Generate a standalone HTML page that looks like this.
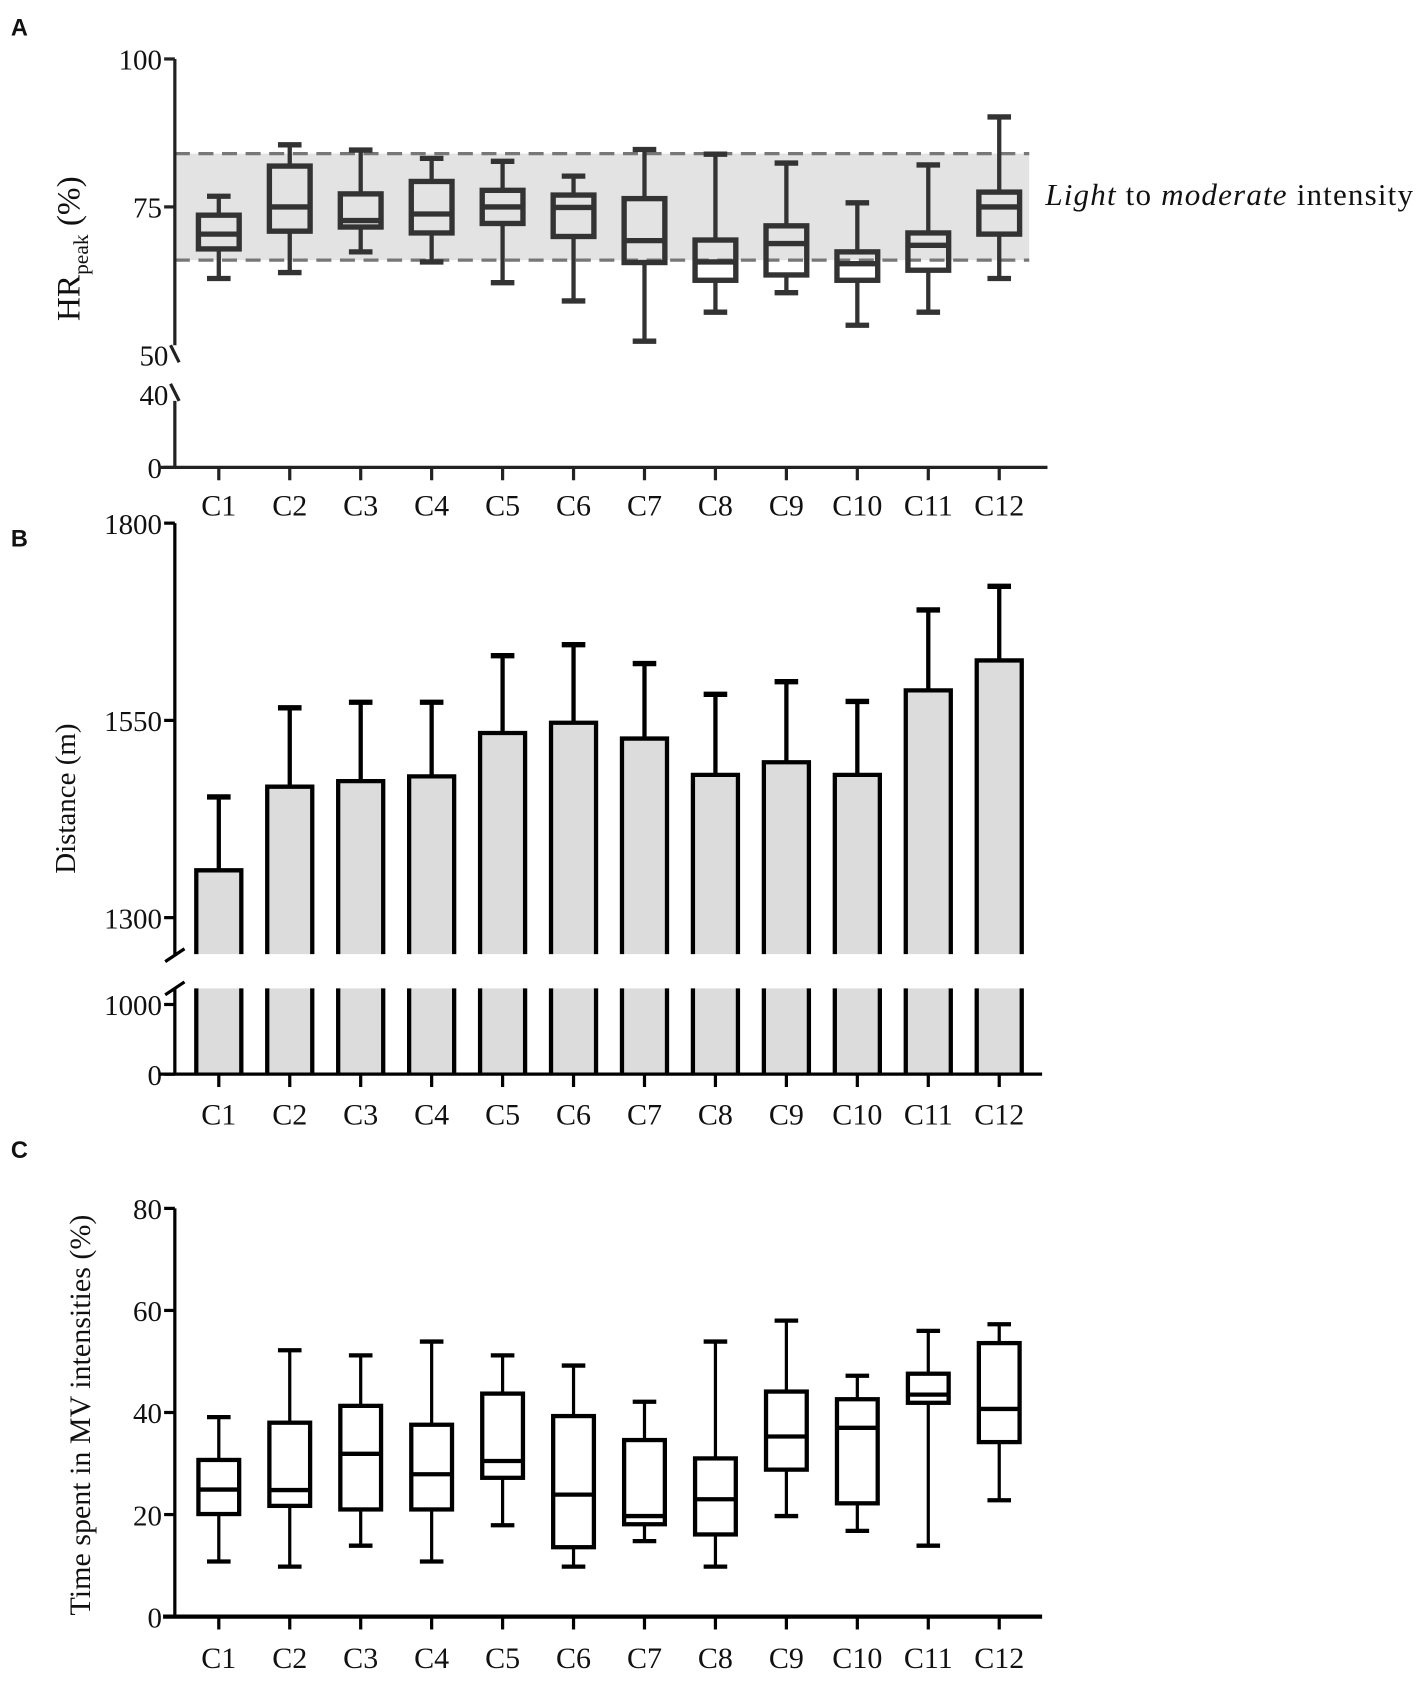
<!DOCTYPE html>
<html><head><meta charset="utf-8"><style>
html,body{margin:0;padding:0;background:#fff}
svg{display:block}
text{font-family:"Liberation Serif",serif;fill:#111}
.pl{font-family:"Liberation Sans",sans-serif;font-weight:bold;font-size:22px}
</style></head><body>
<svg id="fig" width="1426" height="1682" viewBox="0 0 1330 1569" xmlns="http://www.w3.org/2000/svg">
<text class="pl" x="10" y="33">A</text>
<text class="pl" x="10" y="510">B</text>
<text class="pl" x="10" y="1080">C</text>
<g id="gA"></g>
<g id="gB"></g>
<g id="gC"></g>
</svg>
<script>
const categories=["C1","C2","C3","C4","C5","C6","C7","C8","C9","C10","C11","C12"];
// Panel A HRpeak boxes
const hrMin=[62.9,63.9,67.4,65.7,62.2,59.1,52.3,57.2,60.5,55,57.2,62.9];
const hrQ1=[67.9,70.9,71.6,70.6,72.2,70,65.6,62.6,63.5,62.6,64.3,70.4];
const hrMed=[70.4,75,72.7,73.8,75,74.9,69.3,65.7,68.8,65.4,68.5,75];
const hrQ3=[73.6,81.9,77.2,79.3,77.8,77,76.4,69.4,71.8,67.4,70.6,77.5];
const hrMax=[76.8,85.5,84.6,83.2,82.7,80.2,84.7,83.9,82.4,75.7,82.1,90.2];
const hrBand=[66,84];
const hrTicks=[100,75,50,40,0];
// Panel B distance bars
const distMean=[1360,1466,1473,1479,1534,1547,1527,1481,1497,1481,1588,1626];
const distSD=[93,100,100,94,98,99,95,102,102,93,102,94];
const distTicks=[1800,1550,1300,1000,0];
// Panel C MV time boxes
const mvMin=[10.8,9.8,13.9,10.8,17.9,9.8,14.8,9.8,19.7,16.8,13.9,22.8];
const mvQ1=[20.1,21.7,21,21,27.2,13.6,18.1,16.1,28.8,22.2,41.9,34.2];
const mvMed=[24.9,24.8,31.9,27.9,30.5,23.9,19.7,23,35.3,37,43.5,40.7];
const mvQ3=[30.7,38,41.3,37.6,43.7,39.3,34.6,31,44.1,42.6,47.6,53.6];
const mvMax=[39.1,52.2,51.2,53.9,51.2,49.2,42.1,53.9,58,47.2,56,57.3];
const mvTicks=[80,60,40,20,0];

const NS="http://www.w3.org/2000/svg";
function mk(p,t,a){const e=document.createElementNS(NS,t);for(const k in a)e.setAttribute(k,a[k]);p.appendChild(e);return e;}
const AX=163, X0=204, DX=(932-204)/11;
const xc=i=>X0+i*DX;

function xAxis(g,y,x1,x2,col,sw,ly){
  const l=mk(g,'line',{x1:x1,y1:y,x2:x2,y2:y,stroke:col,'stroke-width':sw});
  
  categories.forEach((c,i)=>{
    mk(g,'line',{x1:xc(i),y1:y,x2:xc(i),y2:y+12,stroke:col,'stroke-width':3});
    const t=mk(g,'text',{x:xc(i),y:ly,'text-anchor':'middle','font-size':28});
    t.textContent=c;
    
    
  });
}
function yTick(g,y,lab,col){
  mk(g,'line',{x1:AX-10,y1:y,x2:AX,y2:y,stroke:col,'stroke-width':3});
  const t=mk(g,'text',{x:AX-12,y:y+10,'text-anchor':'end','font-size':27});
  t.textContent=lab;
  
  
}
function boxes(g,yf,mn,q1,md,q3,mx,col,sw,nm){
  const w=38,cw=22;
  categories.forEach((c,i)=>{
    const x=xc(i);
    const b=mk(g,'g',{});
    
    
    mk(b,'line',{x1:x,y1:yf(mx[i]),x2:x,y2:yf(q3[i]),stroke:col,'stroke-width':sw-1});
    mk(b,'line',{x1:x,y1:yf(q1[i]),x2:x,y2:yf(mn[i]),stroke:col,'stroke-width':sw-1});
    mk(b,'line',{x1:x-cw/2,y1:yf(mx[i]),x2:x+cw/2,y2:yf(mx[i]),stroke:col,'stroke-width':sw});
    mk(b,'line',{x1:x-cw/2,y1:yf(mn[i]),x2:x+cw/2,y2:yf(mn[i]),stroke:col,'stroke-width':sw});
    mk(b,'rect',{x:x-w/2,y:yf(q3[i]),width:w,height:yf(q1[i])-yf(q3[i]),fill:'none',stroke:col,'stroke-width':sw});
    mk(b,'line',{x1:x-w/2,y1:yf(md[i]),x2:x+w/2,y2:yf(md[i]),stroke:col,'stroke-width':sw});
  });
}

// ---- Panel A ----
(function(){
  const g=document.getElementById('gA');
  const yA=v=>v>=50?193-(v-75)*5.52:436-v*1.7;
  const band=mk(g,'rect',{x:AX,y:yA(hrBand[1]),width:797,height:yA(hrBand[0])-yA(hrBand[1]),fill:'#e3e3e3'});
  
  hrBand.forEach(v=>{const l=mk(g,'line',{x1:AX,y1:yA(v),x2:960,y2:yA(v),stroke:'#777','stroke-width':3,'stroke-dasharray':'14 8'});
    });
  const ax=mk(g,'path',{d:`M${AX} ${yA(100)}V322 M${AX} 374V436`,stroke:'#222','stroke-width':3,fill:'none'});
  
  mk(g,'line',{x1:AX-4,y1:322,x2:AX+4,y2:338,stroke:'#222','stroke-width':3});
  mk(g,'line',{x1:AX-4,y1:358,x2:AX+4,y2:374,stroke:'#222','stroke-width':3});
  hrTicks.forEach(v=>{ if(v===50||v===40){const t=mk(g,'text',{x:AX-6,y:yA(v)+10,'text-anchor':'end','font-size':27});t.textContent=v;} else yTick(g,yA(v),v,'#222');});
  xAxis(g,436,148,977,'#222',3,481);
  boxes(g,yA,hrMin,hrQ1,hrMed,hrQ3,hrMax,'#333',5,'hr-box');
  const t=mk(g,'text',{x:975,y:191,'font-size':29,textLength:343});
  t.innerHTML='<tspan font-style="italic">Light</tspan> to <tspan font-style="italic">moderate</tspan> intensity';
  
  const yt=mk(g,'text',{transform:'translate(74,232) rotate(-90)','text-anchor':'middle','font-size':31});
  yt.innerHTML='HR<tspan font-size="20" dy="8">peak</tspan><tspan dy="-8"> (%)</tspan>';
  
})();

// ---- Panel B ----
(function(){
  const g=document.getElementById('gB');
  const yB=v=>672-(v-1550)*0.736;
  const yL=v=>1002-v*0.065;
  const bw=42;
  categories.forEach((c,i)=>{
    const x=xc(i);
    const b=mk(g,'g',{});
    
    
    const top=yB(distMean[i]), et=yB(distMean[i]+distSD[i]);
    mk(b,'line',{x1:x,y1:et,x2:x,y2:top,stroke:'#000','stroke-width':4});
    mk(b,'line',{x1:x-11,y1:et,x2:x+11,y2:et,stroke:'#000','stroke-width':5});
    mk(b,'rect',{x:x-bw/2,y:top,width:bw,height:890-top,fill:'#dcdcdc'});
    mk(b,'path',{d:`M${x-bw/2} 890V${top}H${x+bw/2}V890`,fill:'none',stroke:'#000','stroke-width':4});
    mk(b,'rect',{x:x-bw/2,y:922,width:bw,height:80,fill:'#dcdcdc'});
    mk(b,'path',{d:`M${x-bw/2} 922V1002 M${x+bw/2} 922V1002`,fill:'none',stroke:'#000','stroke-width':4});
  });
  const ax=mk(g,'path',{d:`M${AX} ${yB(1800)}V890 M${AX} 922V1002`,stroke:'#000','stroke-width':3,fill:'none'});
  
  mk(g,'line',{x1:AX-9,y1:897,x2:AX+9,y2:885,stroke:'#000','stroke-width':3});
  mk(g,'line',{x1:AX-9,y1:928,x2:AX+9,y2:916,stroke:'#000','stroke-width':3});
  distTicks.forEach(v=>yTick(g,v>=1300?yB(v):yL(v),v,'#000'));
  xAxis(g,1002,148,972,'#000',3,1049);
  const yt=mk(g,'text',{transform:'translate(70,745) rotate(-90)','text-anchor':'middle','font-size':27});
  yt.textContent='Distance (m)';
  
})();

// ---- Panel C ----
(function(){
  const g=document.getElementById('gC');
  const yC=v=>1508-v*4.76;
  const ax=mk(g,'line',{x1:AX,y1:yC(80),x2:AX,y2:1508,stroke:'#000','stroke-width':3});
  
  mvTicks.forEach(v=>yTick(g,yC(v),v,'#000'));
  xAxis(g,1508,152,972,'#000',4,1556);
  boxes(g,yC,mvMin,mvQ1,mvMed,mvQ3,mvMax,'#000',4,'mv-box');
  const yt=mk(g,'text',{transform:'translate(84,1320) rotate(-90)','text-anchor':'middle','font-size':28});
  yt.textContent='Time spent in MV intensities (%)';
  
})();
</script>
</body></html>
